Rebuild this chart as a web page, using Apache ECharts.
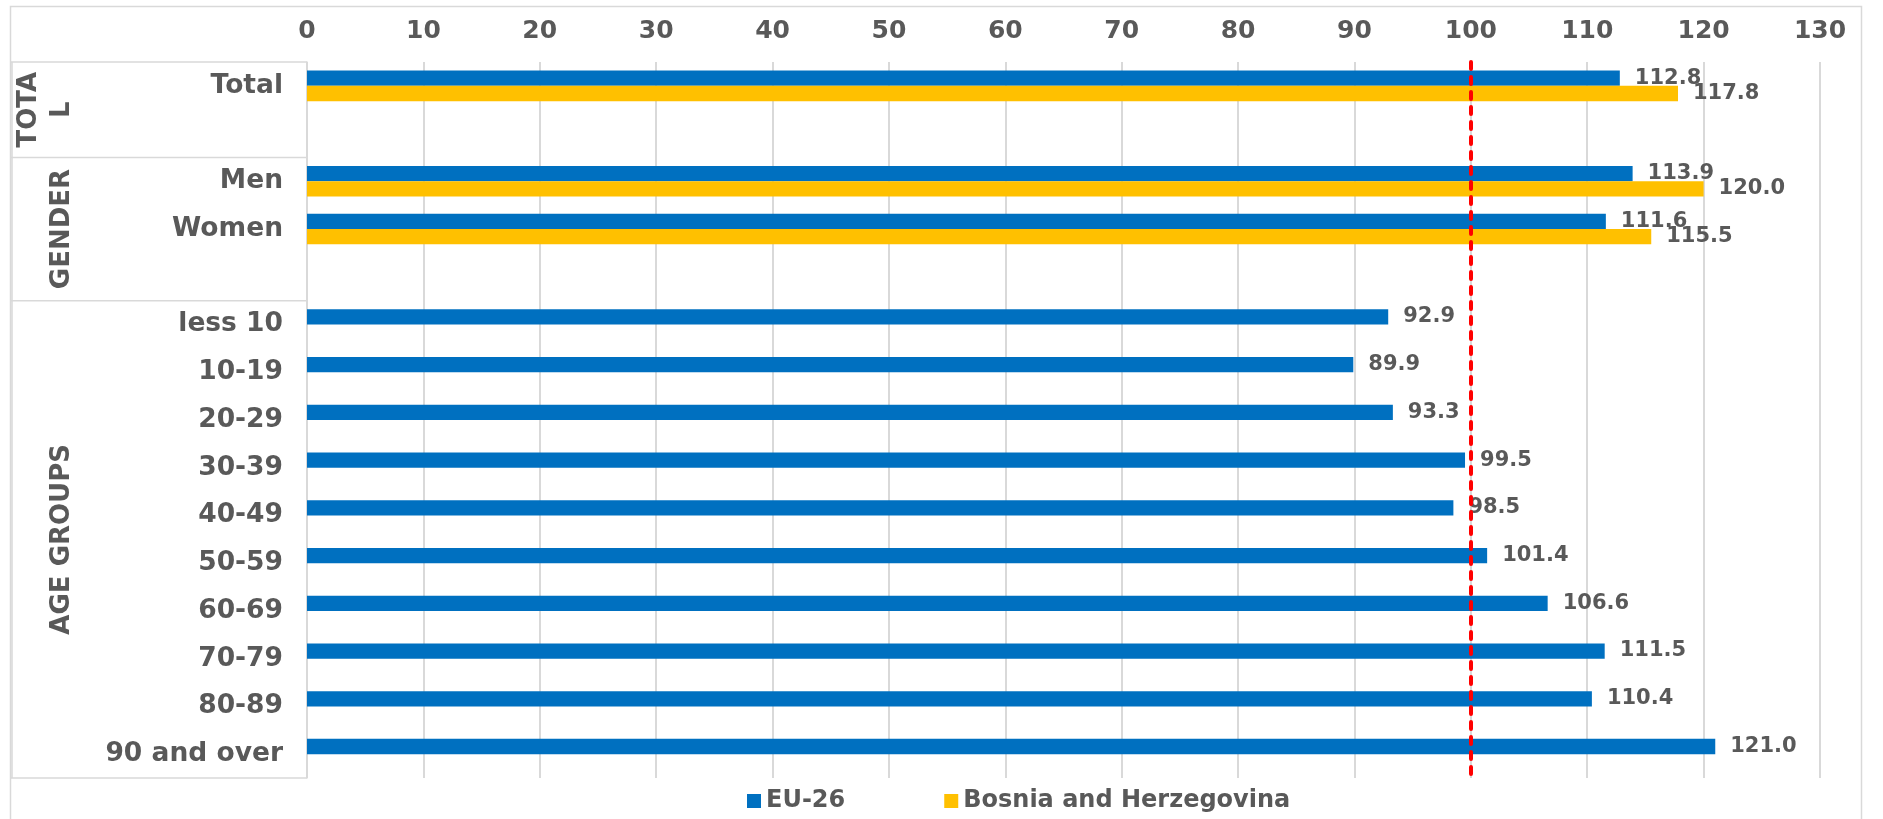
<!DOCTYPE html>
<html>
<head>
<meta charset="utf-8">
<script src="https://cdn.jsdelivr.net/npm/echarts@6/dist/echarts.min.js"></script>
<style>
  html, body { margin: 0; padding: 0; background: #ffffff; }
  #chart { width: 1883px; height: 819px; }
</style>
</head>
<body>
<div id="chart"></div>
<script>
// Categories, top to bottom; blank entries are spacer rows between groups
const categories = ['Total', '', 'Men', 'Women', ' ', 'less 10', '10-19', '20-29', '30-39', '40-49', '50-59', '60-69', '70-79', '80-89', '90 and over'];
const eu26Values = [112.8, null, 113.9, 111.6, null, 92.9, 89.9, 93.3, 99.5, 98.5, 101.4, 106.6, 111.5, 110.4, 121.0];
const bihValues  = [117.8, null, 120.0, 115.5, null, null, null, null, null, null, null, null, null, null, null];
const seriesNames = ['EU-26', 'Bosnia and Herzegovina'];
const seriesColors = ['#0070C0', '#FFC000'];

// Group headers and how many category rows each one spans
const groupNames = ['TOTA\nL', 'GENDER', 'AGE GROUPS'];
const groupSizes = [2, 3, 10];

// Value axis ticks and the reference level
const axisMin = 0;
const axisMax = 130;
const axisStep = 10;
const referenceLevel = 100;

const FONT = 'DejaVu Sans';
const TEXT = '#595959';
const RULE = '#d9d9d9';

const chart = echarts.init(document.getElementById('chart'), null, { renderer: 'canvas' });

const valueLabel = {
  show: true,
  position: 'right',
  distance: 15,
  fontFamily: FONT,
  fontSize: 21,
  fontWeight: 'bold',
  color: TEXT,
  formatter: p => (p.value == null ? '' : Number(p.value).toFixed(1))
};

chart.setOption({
  animation: false,
  textStyle: { fontFamily: FONT },
  grid: { left: 307, right: 63, top: 62, bottom: 41 },
  xAxis: {
    type: 'value',
    position: 'top',
    min: axisMin,
    max: axisMax,
    interval: axisStep,
    axisLine: { show: false },
    axisTick: { show: false },
    splitLine: { show: true, lineStyle: { color: RULE, width: 2 } },
    axisLabel: { fontFamily: FONT, fontSize: 25, fontWeight: 'bold', color: TEXT, margin: 18 }
  },
  yAxis: {
    type: 'category',
    inverse: true,
    data: categories,
    axisLine: { show: true, lineStyle: { color: RULE, width: 1.5 } },
    axisTick: { show: false },
    splitLine: { show: false },
    axisLabel: { interval: 0, fontFamily: FONT, fontSize: 26.5, fontWeight: 'bold', color: TEXT, margin: 24 }
  },
  legend: {
    data: seriesNames,
    left: 742,
    top: 784,
    icon: 'rect',
    itemWidth: 14,
    itemHeight: 14,
    itemGap: 99,
    textStyle: { fontFamily: FONT, fontSize: 24, fontWeight: 'bold', color: TEXT }
  },
  series: [
    {
      name: seriesNames[0],
      type: 'bar',
      data: eu26Values,
      itemStyle: { color: seriesColors[0] },
      barGap: '0%',
      barCategoryGap: '36%',
      label: valueLabel,
      markLine: {
        silent: true,
        symbol: ['none', 'none'],
        label: { show: false },
        lineStyle: { color: '#FF0000', width: 4, type: [7, 8], cap: 'round' },
        data: [{ xAxis: referenceLevel }]
      }
    },
    {
      name: seriesNames[1],
      type: 'bar',
      data: bihValues,
      itemStyle: { color: seriesColors[1] },
      barGap: '0%',
      barCategoryGap: '36%',
      label: valueLabel
    }
  ]
});

// Frame, group table lines and rotated group headers, placed from the category axis
function drawFrame() {
  const yOf = i => chart.convertToPixel({ yAxisIndex: 0 }, i);
  const band = yOf(1) - yOf(0);
  const edge = i => yOf(i) - band / 2;
  const tableLeft = 11;
  const tableRight = chart.convertToPixel({ xAxisIndex: 0 }, axisMin);
  const headerCenterX = 62;
  const headerLineHeight = 33;

  const elements = [{
    type: 'rect',
    silent: true,
    shape: { x: 10.5, y: 6.5, width: 1851, height: 840 },
    style: { fill: 'none', stroke: RULE, lineWidth: 1.5 }
  }];

  let start = 0;
  const bounds = [edge(0)];
  groupSizes.forEach(n => { start += n; bounds.push(edge(start)); });

  bounds.forEach(y => {
    elements.push({
      type: 'line', silent: true,
      shape: { x1: tableLeft, y1: y, x2: tableRight, y2: y },
      style: { stroke: RULE, lineWidth: 1.5 }
    });
  });
  elements.push({
    type: 'line', silent: true,
    shape: { x1: tableLeft + 1, y1: bounds[0], x2: tableLeft + 1, y2: bounds[bounds.length - 1] },
    style: { stroke: RULE, lineWidth: 1.5 }
  });

  groupNames.forEach((name, g) => {
    const lines = name.split('\n').length;
    elements.push({
      type: 'text',
      silent: true,
      x: headerCenterX - (lines - 1) * headerLineHeight / 2,
      y: (bounds[g] + bounds[g + 1]) / 2,
      rotation: Math.PI / 2,
      style: {
        text: name,
        x: 0, y: 0,
        align: 'center',
        verticalAlign: 'middle',
        lineHeight: headerLineHeight,
        fontFamily: FONT,
        fontSize: 26,
        fontWeight: 'bold',
        fill: TEXT
      }
    });
  });

  chart.setOption({ graphic: { elements } });
}

drawFrame();
</script>
</body>
</html>
